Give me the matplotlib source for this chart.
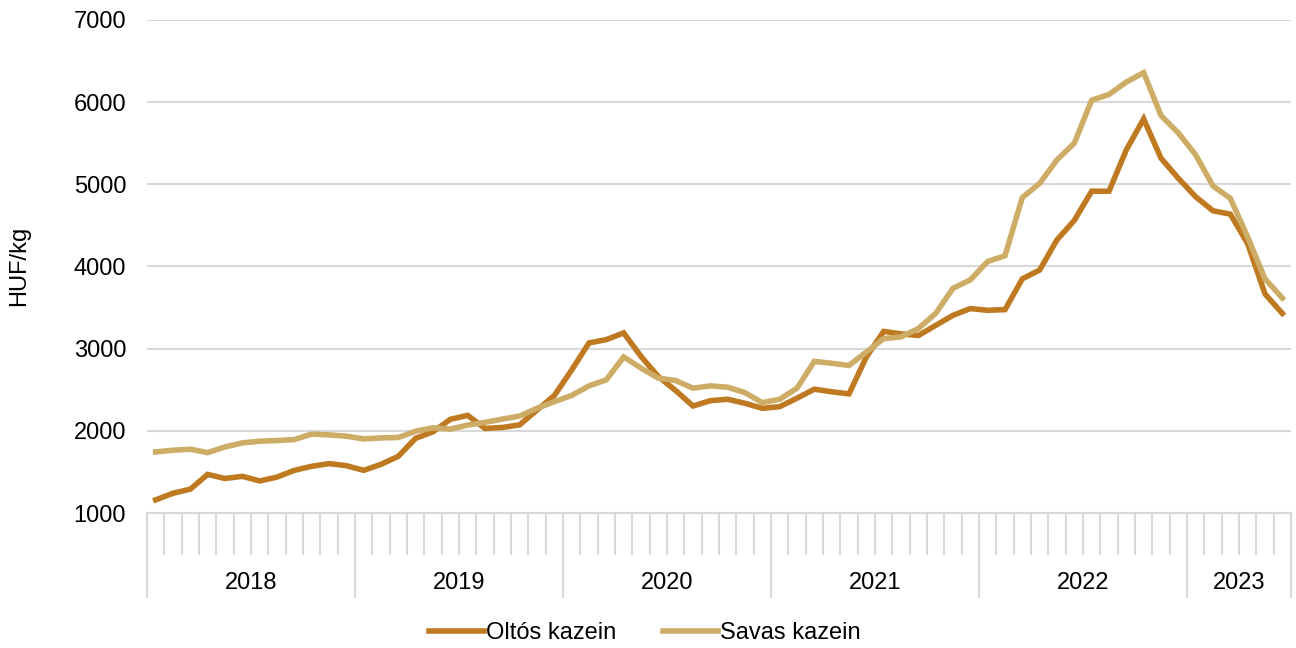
import matplotlib
matplotlib.use("Agg")
import matplotlib.pyplot as plt
import matplotlib.transforms as mtransforms

plt.rcParams['font.family'] = ['Liberation Sans', 'DejaVu Sans']

years = ["2018", "2019", "2020", "2021", "2022", "2023"]
months_per_year = [12, 12, 12, 12, 12, 6]

oltos = [1160, 1240, 1290, 1470, 1420, 1446, 1390, 1437, 1519, 1568, 1601, 1576,
         1519, 1592, 1690, 1910, 1988, 2140, 2188, 2029, 2041, 2073, 2253, 2430,
         2740, 3070, 3110, 3192, 2906, 2661, 2490, 2302, 2367, 2384, 2335, 2274,
         2294, 2397, 2507, 2475, 2450, 2898, 3210, 3180, 3160, 3283, 3406, 3488,
         3467, 3475, 3850, 3957, 4325, 4561, 4916, 4916, 5420, 5796, 5318, 5073,
         4849, 4678, 4637, 4278, 3666, 3429]
savas = [1743, 1764, 1776, 1735, 1804, 1853, 1874, 1882, 1894, 1960, 1951, 1935,
         1902, 1914, 1919, 1996, 2037, 2021, 2070, 2103, 2143, 2180, 2274, 2355,
         2430, 2547, 2621, 2899, 2764, 2641, 2612, 2519, 2547, 2531, 2465, 2343,
         2384, 2519, 2845, 2822, 2796, 2959, 3122, 3143, 3245, 3429, 3735, 3837,
         4061, 4131, 4840, 5012, 5298, 5502, 6024, 6094, 6245, 6359, 5837, 5625,
         5359, 4980, 4829, 4359, 3849, 3616]
series_names = ["Oltós kazein", "Savas kazein"]
colors = ["#BF7A21", "#CDAD66"]
yticks = [1000, 2000, 3000, 4000, 5000, 6000, 7000]

FS = 17

fig = plt.figure(figsize=(12.96, 6.48), dpi=100)
ax = fig.add_axes([147/1296, 1-513/648, (1291-147)/1296, (513-20)/648])

x = list(range(len(oltos)))
ax.plot(x, oltos, color=colors[0], lw=4, label=series_names[0], solid_joinstyle='miter', zorder=3)
ax.plot(x, savas, color=colors[1], lw=4, label=series_names[1], solid_joinstyle='miter', zorder=3)

ax.set_xlim(-0.5, len(oltos) - 0.5)
ax.set_ylim(1000, 7000)
ax.set_yticks(yticks)
ax.set_yticklabels([str(v) for v in yticks], fontsize=FS)
ax.tick_params(axis='y', length=0, pad=15)
ax.yaxis.grid(True, color='#D9D9D9', lw=1.5)
ax.set_axisbelow(True)
for s in ['top', 'right', 'left']:
    ax.spines[s].set_visible(False)
ax.spines['bottom'].set_color('#D9D9D9')
ax.spines['bottom'].set_linewidth(1.5)

# multi-level category axis
bounds = [-0.5]
for m in months_per_year:
    bounds.append(bounds[-1] + m)
month_bounds = [-0.5 + k for k in range(len(oltos) + 1)]
ax.set_xticks(bounds)
ax.set_xticklabels([])
ax.set_xticks([b for b in month_bounds if b not in bounds], minor=True)
ax.tick_params(axis='x', which='major', length=61, width=1.5, color='#D9D9D9', direction='out')
ax.tick_params(axis='x', which='minor', length=30, width=1.5, color='#D9D9D9', direction='out')

trans = mtransforms.blended_transform_factory(ax.transData, ax.transAxes)
for i, yr in enumerate(years):
    cx = (bounds[i] + bounds[i + 1]) / 2
    ax.text(cx, -70/493, yr, transform=trans, ha='center', va='center', fontsize=FS)

fig.text(19.5/1296, 1-266/648, "HUF/kg", rotation=90, ha='center', va='center', fontsize=FS)

leg = fig.legend(loc='center', bbox_to_anchor=(645/1296, 1-633/648), ncol=2, frameon=False,
                 fontsize=FS, handlelength=2.3, handletextpad=0.1, columnspacing=2.0)
for line in leg.get_lines():
    line.set_linewidth(4)

fig.savefig("out.png", dpi=100)
